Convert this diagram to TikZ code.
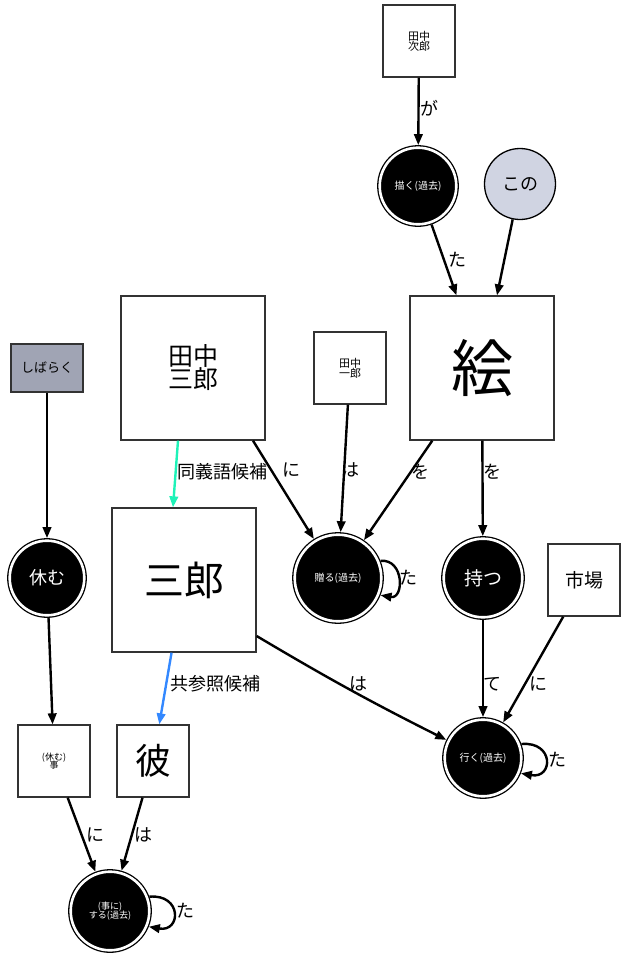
\documentclass[tikz,border=0pt]{standalone}
\usepackage{fontspec}
\setmainfont{Noto Sans CJK JP}
\usetikzlibrary{arrows.meta}
\definecolor{synonym}{RGB}{30,242,184}
\definecolor{coref}{RGB}{51,136,255}
\definecolor{detfill}{RGB}{208,212,226}
\definecolor{advfill}{RGB}{160,164,180}
\newcommand{\fs}[1]{\fontsize{#1}{#1}\selectfont}
\tikzset{
  box/.style={draw=black!80, line width=1.3pt, fill=white, inner sep=0pt,
    minimum size=72pt, align=center, text=black},
  bigbox/.style={box, minimum size=144pt},
  pred/.style={circle, fill=black, draw=black, double=white, double distance=2.6pt,
    line width=1.3pt, inner sep=0pt, outer sep=2.6pt, align=center, text=white},
  lbl/.style={inner sep=0pt, font=\fs{18}},
  edge/.style={line width=2.4pt, -{Triangle[length=11pt,width=8.5pt]}},
  selfloop/.style={edge},
}
\begin{document}
\begin{tikzpicture}[x=1pt,y=1pt]
\useasboundingbox (0,0) rectangle (625,-959);

% entity and predicate nodes
\node[box, font=\fs{11}] (jiro) at (419,-41) {田中\\[-1pt]次郎};
\node[pred, minimum size=76.6pt, font=\fs{10}] (kaku) at (418,-186) {描く(過去)};
\node[circle, draw=black, line width=1.3pt, fill=detfill, minimum size=71pt, font=\fs{18}] (kono) at (520,-184) {この};
\node[bigbox, font=\fs{62}] (e) at (482,-368) {絵};
\node[bigbox, font=\fs{25}] (saburoT) at (193,-368) {田中\\[-2pt]三郎};
\node[box, font=\fs{11}] (ichiro) at (350,-368) {田中\\[-1pt]一郎};
\node[box, fill=advfill, minimum height=48pt, font=\fs{13}] (shibaraku) at (47,-368) {しばらく};
\node[pred, minimum size=74.6pt, font=\fs{18}] (yasumu) at (47,-578) {休む};
\node[bigbox, font=\fs{40}] (saburo) at (184,-580) {三郎};
\node[pred, minimum size=86.6pt, font=\fs{10}] (okuru) at (338,-578) {贈る(過去)};
\node[pred, minimum size=78.6pt, font=\fs{19}] (motsu) at (483,-578) {持つ};
\node[box, font=\fs{19}] (ichiba) at (584,-580) {市場};
\node[box, font=\fs{9}] (koto) at (54,-761) {(休む)\\[-2pt]事};
\node[box, font=\fs{36}] (kare) at (153,-761) {彼};
\node[pred, minimum size=76.6pt, font=\fs{10}] (iku) at (483,-758) {行く(過去)};
\node[pred, minimum size=78.6pt, font=\fs{9}] (suru) at (110,-911) {(事に)\\[-2pt]する(過去)};

% dependency edges
\draw[edge] (jiro) -- (kaku);
\draw[edge] (kaku) -- (e);
\draw[edge] (kono) -- (e);
\draw[edge, synonym] ([xshift=-15pt]saburoT.south) -- ([xshift=-11pt]saburo.north);
\draw[edge] ([xshift=60pt]saburoT.south) -- (okuru);
\draw[edge] (ichiro) -- (okuru);
\draw[edge] (e) -- (okuru);
\draw[edge] (e) -- (motsu);
\draw[edge] (shibaraku) -- (yasumu);
\draw[edge] (yasumu) -- (koto);
\draw[edge, coref] (saburo) -- (kare);
\draw[edge] ([yshift=-56pt]saburo.east) to[bend right=2] (iku);
\draw[edge] (motsu) -- (iku);
\draw[edge] (ichiba) -- (iku);
\draw[edge] (koto) -- (suru);
\draw[edge] (kare) -- (suru);

% self loops on the right of each past-tense predicate
\draw[selfloop] (okuru.22) .. controls +(5:24) and +(-10:24) .. (okuru.-22);
\draw[selfloop] (iku.20) .. controls +(5:33) and +(-10:33) .. (iku.-22);
\draw[selfloop] (suru.20) .. controls +(5:33) and +(-10:33) .. (suru.-22);

% edge labels
\node[lbl] (lga) at (429,-108) {が};
\node[lbl] (lta1) at (457,-260) {た};
\node[lbl] (lsyn) at (222,-472) {同義語候補};
\node[lbl] (lni1) at (291,-470) {に};
\node[lbl] (lha1) at (350,-470) {は};
\node[lbl] (lwo1) at (420,-472) {を};
\node[lbl] (lwo2) at (492,-472) {を};
\node[lbl] (lta2) at (408,-578) {た};
\node[lbl] (lcor) at (215,-684) {共参照候補};
\node[lbl] (lha2) at (358,-684) {は};
\node[lbl] (lte) at (492,-684) {て};
\node[lbl] (lni2) at (538,-684) {に};
\node[lbl] (lta3) at (557,-760) {た};
\node[lbl] (lni3) at (95,-835) {に};
\node[lbl] (lha3) at (143,-835) {は};
\node[lbl] (lta4) at (185,-911) {た};
\end{tikzpicture}
\end{document}
